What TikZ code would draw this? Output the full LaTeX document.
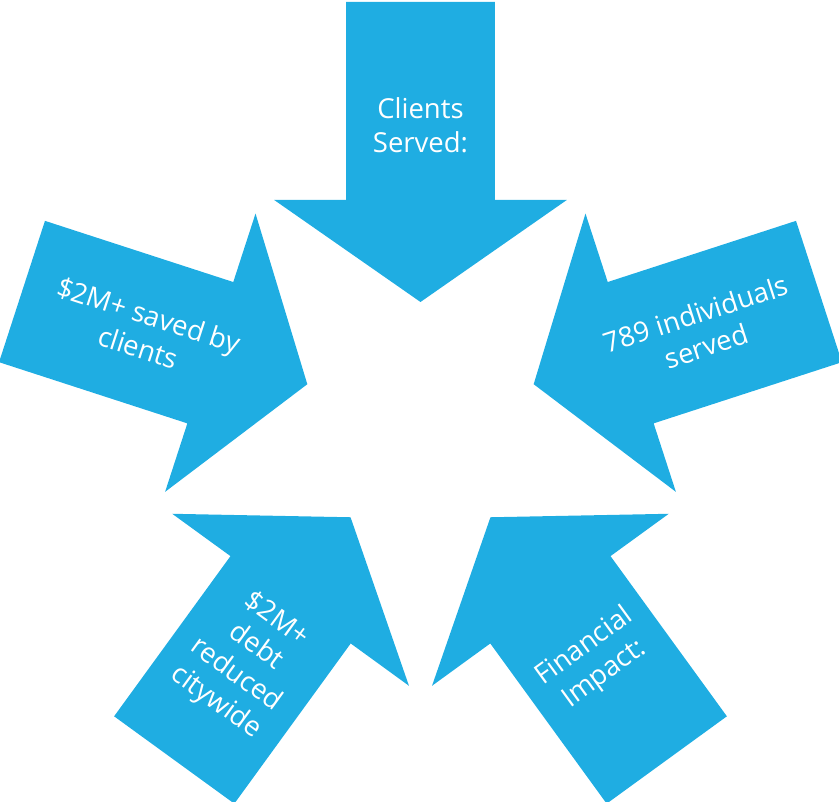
\documentclass[tikz,border=0pt]{standalone}
\usepackage{fontspec}
\setmainfont{Open Sans}
\definecolor{arrowblue}{RGB}{31,173,226}
\tikzset{
  bigarrow/.style={fill=arrowblue, draw=none},
  arrowtext/.style={text=white, align=center, inner sep=0pt, font=\fontsize{27.5}{34}\selectfont}
}
\newcommand{\arrowshape}{(-74.3,419) -- (74.3,419) -- (74.3,221) -- (146.3,221) -- (0,119) -- (-146.3,221) -- (-74.3,221) -- cycle}
\begin{document}
\begin{tikzpicture}[x=1pt,y=1pt]
\useasboundingbox (-420.5,-381) rectangle (418.5,421);
% five arrows around the centre
\fill[bigarrow] \arrowshape;
\fill[bigarrow, rotate=-72] \arrowshape;
\fill[bigarrow, rotate=-144] \arrowshape;
\fill[bigarrow, rotate=144] \arrowshape;
\fill[bigarrow, rotate=72] \arrowshape;
% labels
\node[arrowtext] (served) at (90:296) {Clients\\Served:};
\node[arrowtext, rotate=18] (individuals) at (18:295) {789 individuals\\served};
\node[arrowtext, rotate=36] (impact) at (-54:296) {Financial\\Impact:};
\node[arrowtext, rotate=-36] (debt) at (234:297) {\$2M+\\debt\\reduced\\citywide};
\node[arrowtext, rotate=-18] (saved) at (162:291) {\$2M+ saved by\\clients};
\end{tikzpicture}
\end{document}
